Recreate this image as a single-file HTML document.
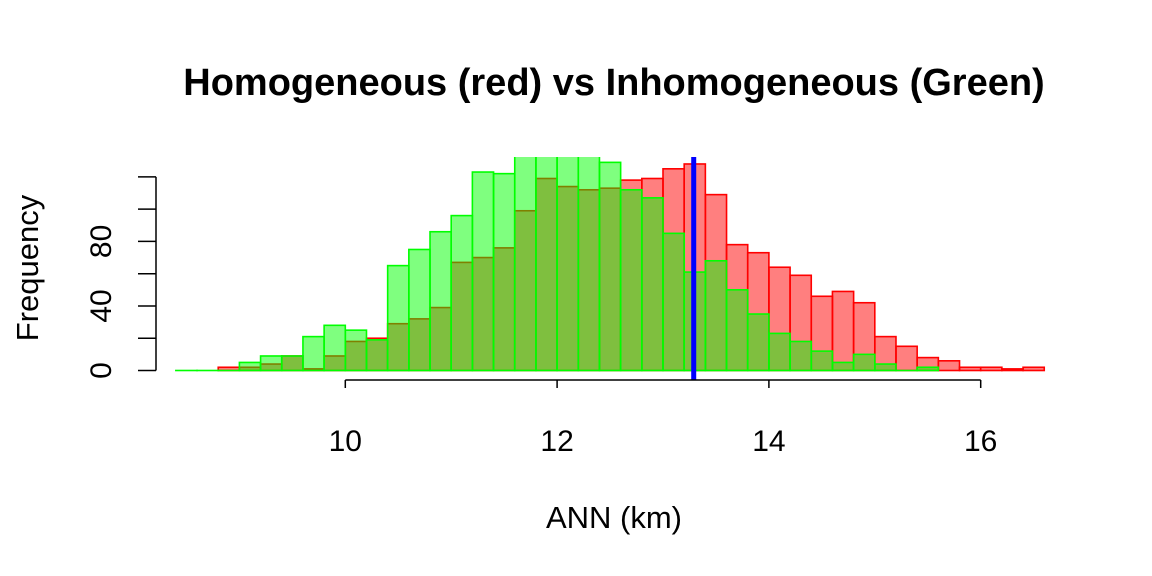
<!DOCTYPE html>
<html><head><meta charset="utf-8"><style>
html,body{margin:0;padding:0;background:#fff;}
svg{display:block;font-family:"Liberation Sans",Arial,sans-serif;}
</style></head><body>
<svg id="chart" width="1152" height="576" viewBox="0 0 1152 576">
<defs><clipPath id="plotclip"><rect x="0" y="157" width="1152" height="240"/></clipPath></defs>
<rect width="1152" height="576" fill="#fff"/>
<text x="614" y="95" text-anchor="middle" font-size="38" font-weight="bold">Homogeneous (red) vs Inhomogeneous (Green)</text>
<text x="614" y="528" text-anchor="middle" font-size="31">ANN (km)</text>
<text transform="translate(38,268) rotate(-90)" text-anchor="middle" font-size="31">Frequency</text>
<g id="bars" clip-path="url(#plotclip)"></g>
<g id="axes"></g>
</svg>
<script>
const binWidth = 0.2;
const redStart = 8.8;
const redCounts = [2,2,4,9,1,9,18,20,29,32,39,67,70,76,99,119,114,112,113,118,119,125,128,109,78,73,64,59,46,49,42,21,15,8,6,2,2,1,2];
const greenStart = 8.4;
const greenCounts = [0,0,0,5,9,9,21,28,25,19,65,75,86,96,123,122,140,145,142,138,129,112,107,85,61,68,50,35,23,18,12,5,10,4,0,2];
const xTicks = [10,12,14,16];
const yTicks = [0,20,40,60,80,100,120];
const yLabels = [0,40,80];
const meanLine = 13.29;

const NS = "http://www.w3.org/2000/svg";
function X(v){ return 345.3 + (v - 10) * 105.9; }
function Y(c){ return 370.5 - c * 1.6135; }
const bars = document.getElementById('bars');
const axes = document.getElementById('axes');
function mk(tag, attrs, parent){ const e = document.createElementNS(NS, tag); for (const k in attrs) e.setAttribute(k, attrs[k]); parent.appendChild(e); return e; }
function barRect(x0, x1, c, fill, stroke){
  const top = Math.min(Y(c), Y(0) - 0.01);
  return mk('rect', {x: x0, y: top, width: x1 - x0, height: Y(0) - top, fill: fill, stroke: stroke, 'stroke-width': 1.6}, bars);
}

redCounts.forEach((c, i) => {
  const r = barRect(X(redStart + i * binWidth), X(redStart + (i + 1) * binWidth), c, 'rgba(255,0,0,0.5)', '#ff0000');
  
  
});
greenCounts.forEach((c, i) => {
  const r = barRect(X(greenStart + i * binWidth), X(greenStart + (i + 1) * binWidth), c, 'rgba(0,255,0,0.5)', '#00ff00');
  
  
});
const ml = mk('line', {x1: X(meanLine), x2: X(meanLine), y1: 157, y2: 380, stroke: '#0000ff', 'stroke-width': 5}, axes);



const xl = mk('line', {x1: X(xTicks[0]), x2: X(xTicks[xTicks.length - 1]), y1: 380, y2: 380, stroke: '#000', 'stroke-width': 1.5}, axes);


xTicks.forEach(t => {
  const tk = mk('line', {x1: X(t), x2: X(t), y1: 380, y2: 388, stroke: '#000', 'stroke-width': 1.5}, axes);
  
  
  const lb = mk('text', {x: X(t), y: 451, 'text-anchor': 'middle', 'font-size': 30}, axes);
  lb.textContent = t;
  
  
});
const yl = mk('line', {x1: 156, x2: 156, y1: Y(yTicks[yTicks.length - 1]), y2: Y(0), stroke: '#000', 'stroke-width': 1.5}, axes);


yTicks.forEach(t => {
  const tk = mk('line', {x1: 138, x2: 156, y1: Y(t), y2: Y(t), stroke: '#000', 'stroke-width': 1.5}, axes);
  
  
});
yLabels.forEach(t => {
  const lb = mk('text', {transform: 'translate(111,' + Y(t) + ') rotate(-90)', 'text-anchor': 'middle', 'font-size': 30}, axes);
  lb.textContent = t;
  
  
});
</script>
</body></html>
